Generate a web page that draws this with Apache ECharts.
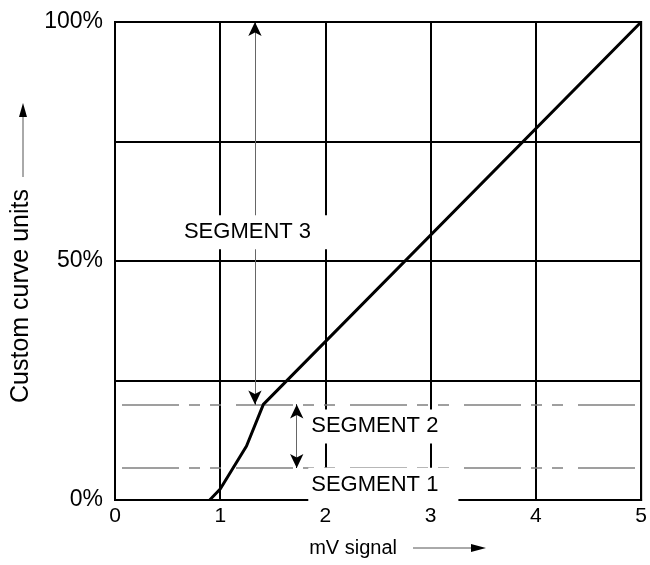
<!DOCTYPE html>
<html>
<head>
<meta charset="utf-8">
<script src="https://cdn.jsdelivr.net/npm/echarts@6/dist/echarts.min.js"></script>
<style>
  html, body { margin: 0; padding: 0; background: #fff; }
  #chart { width: 650px; height: 565px; }
</style>
</head>
<body>
<div id="chart"></div>
<script>
// curve: mV signal -> custom curve units (%)
const curveX = [0.9, 1.0, 1.25, 1.41, 5];
const curveY = [0, 2.3, 11.3, 20, 100];

// segment boundaries (%)
const segBounds = [6.7, 20];

// double-headed arrows: [x, yFrom, yTo]
const segArrows = [
  [1.33, 100, 20],
  [1.727, 20, 6.7]
];

// segment labels: [x, y, text]
const segLabels = [
  [1.34, 56, 'SEGMENT 3'],
  [2.55, 15.4, 'SEGMENT 2'],
  [2.55, 3.2, 'SEGMENT 1']
];

const xTicks = [0, 1, 2, 3, 4, 5];
const yTickLabels = { 0: '0%', 50: '50%', 100: '100%' };

const font = 'Liberation Sans, Arial, sans-serif';
const chart = echarts.init(document.getElementById('chart'));

const arrowLines = [];
const arrowHeads = [];
segArrows.forEach(a => {
  arrowLines.push([{ coord: [a[0], a[1]] }, { coord: [a[0], a[2]] }]);
  const d = a[1] > a[2] ? 0.3 : -0.3;
  // tiny black segments carrying the arrow heads
  arrowHeads.push([{ coord: [a[0], a[1] - d] }, { coord: [a[0], a[1]] }]);
  arrowHeads.push([{ coord: [a[0], a[2] + d] }, { coord: [a[0], a[2]] }]);
});

chart.setOption({
  animation: false,
  grid: {
    left: 115, right: 5, top: 22, bottom: 65,
    show: true, borderColor: '#000', borderWidth: 2
  },
  xAxis: {
    type: 'value', min: xTicks[0], max: xTicks[xTicks.length - 1], interval: 1,
    name: 'mV signal', nameLocation: 'middle', nameGap: 38,
    nameTextStyle: { color: '#000', fontFamily: font, fontSize: 20, padding: [0, 50, 0, 0] },
    axisLine: { lineStyle: { color: '#000', width: 2 } },
    axisTick: { show: false },
    axisLabel: { color: '#000', fontFamily: font, fontSize: 21, margin: 6 },
    splitLine: { lineStyle: { color: '#000', width: 2 } }
  },
  yAxis: {
    type: 'value', min: 0, max: 100, interval: 25,
    name: 'Custom curve units', nameLocation: 'middle', nameGap: 80,
    nameTextStyle: { color: '#000', fontFamily: font, fontSize: 25, padding: [0, 70, 0, 0] },
    axisLine: { lineStyle: { color: '#000', width: 2 } },
    axisTick: { show: false },
    axisLabel: {
      color: '#000', fontFamily: font, fontSize: 23, margin: 12,
      formatter: v => yTickLabels[v] || ''
    },
    splitLine: { lineStyle: { color: '#000', width: 2 } }
  },
  graphic: [
    // arrow next to y axis name
    { type: 'line', shape: { x1: 23, y1: 177, x2: 23, y2: 112 }, style: { stroke: '#555', lineWidth: 1 } },
    { type: 'polygon', shape: { points: [[23, 103], [19, 117], [27, 117]] }, style: { fill: '#000' } },
    // arrow next to x axis name
    { type: 'line', shape: { x1: 413, y1: 548, x2: 478, y2: 548 }, style: { stroke: '#555', lineWidth: 1 } },
    { type: 'polygon', shape: { points: [[486, 548], [471, 544], [471, 552]] }, style: { fill: '#000' } }
  ],
  series: [
    {
      type: 'line', name: 'bounds', symbol: 'none', silent: true,
      data: [],
      markLine: {
        silent: true, symbol: 'none', label: { show: false },
        lineStyle: { color: '#808080', width: 1.5, type: [57, 10, 11, 10, 11, 15], dashOffset: 107 },
        data: segBounds.map(v => [{ coord: [0, v] }, { coord: [5, v] }])
      }
    },
    {
      type: 'line', name: 'arrows', symbol: 'none', silent: true,
      data: [],
      markLine: {
        silent: true, symbol: 'none', label: { show: false },
        lineStyle: { color: '#666', width: 1, type: 'solid' },
        data: arrowLines
      }
    },
    {
      type: 'line', name: 'heads', symbol: 'none', silent: true,
      data: [],
      markLine: {
        silent: true, symbol: ['none', 'arrow'], symbolSize: [10, 14], label: { show: false },
        lineStyle: { color: '#000', width: 1, type: 'solid' },
        data: arrowHeads
      }
    },
    {
      type: 'line', name: 'curve', symbol: 'none', z: 5,
      lineStyle: { color: '#000', width: 3 },
      data: curveX.map((x, i) => [x, curveY[i]])
    },
    {
      type: 'scatter', name: 'labels', symbolSize: 0, z: 10, silent: true,
      itemStyle: { opacity: 1 },
      data: segLabels.map(l => [l[0], l[1], l[2]]),
      label: {
        show: true, position: 'inside', formatter: p => p.value[2],
        color: '#000', fontFamily: font, fontSize: 22,
        backgroundColor: '#fff', padding: [6, 20, 6, 3]
      }
    }
  ]
});
</script>
</body>
</html>
